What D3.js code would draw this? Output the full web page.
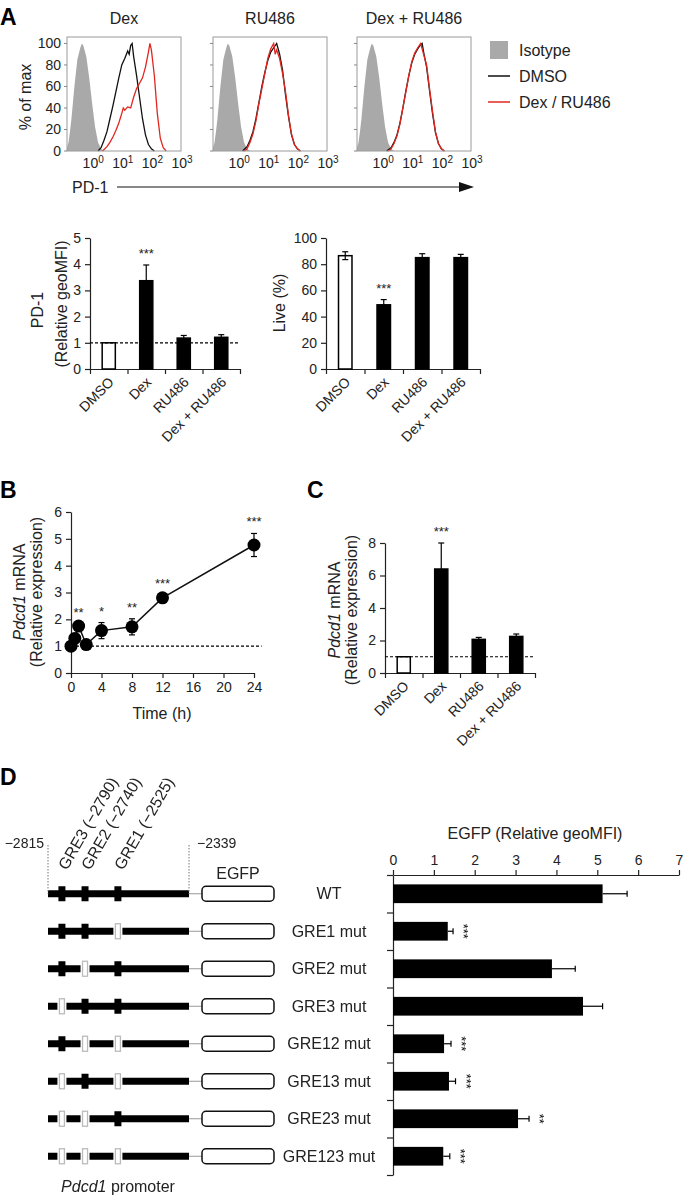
<!DOCTYPE html>
<html>
<head>
<meta charset="utf-8">
<script src="https://cdn.jsdelivr.net/npm/d3@7"></script>
<style>
body { margin: 0; background: #fff; }
text { font-family: "Liberation Sans", Arial, sans-serif; fill: #222; }
</style>
</head>
<body>
<div id="fig"></div>
<script>
// ---------- data ----------
// A: flow histograms (x = log10 PD-1 intensity, y = % of max)
var histTitles = ["Dex", "RU486", "Dex + RU486"];
var pctTicks = [0, 20, 40, 60, 80, 100];
var decades = [0, 1, 2, 3];
var isoX = [-0.85,-0.8,-0.75,-0.7,-0.6,-0.5,-0.4,-0.35,-0.3,-0.2,-0.1,0,0.1,0.2,0.3,0.4];
var isoY = [3,8,18,30,60,85,96,100,98,88,68,44,22,8,2,0];
var dexDmsoX = [0.2,0.3,0.4,0.5,0.6,0.7,0.8,0.9,1.0,1.1,1.2,1.25,1.3,1.35,1.4,1.5,1.6,1.7,1.8,1.9,2.0,2.1];
var dexDmsoY = [0,3,10,18,30,42,55,68,80,86,93,90,98,100,88,70,50,30,15,6,2,0];
var dexTrtX = [0.35,0.5,0.6,0.7,0.8,0.9,1.0,1.05,1.1,1.2,1.3,1.4,1.5,1.6,1.7,1.8,1.85,1.9,1.95,2.0,2.1,2.2,2.3,2.4,2.5];
var dexTrtY = [0,4,8,13,19,26,35,40,38,41,40,50,58,63,68,78,85,92,100,94,70,35,12,3,0];
var ruDmsoX = [0.15,0.3,0.4,0.5,0.6,0.7,0.8,0.9,1.0,1.1,1.2,1.3,1.4,1.5,1.6,1.7,1.8,1.9,2.0,2.1];
var ruDmsoY = [0,4,10,18,30,45,60,73,84,92,96,100,90,75,52,32,15,6,2,0];
var ruTrtX = [0.2,0.3,0.4,0.5,0.6,0.7,0.8,0.9,1.0,1.1,1.2,1.25,1.3,1.4,1.5,1.6,1.7,1.8,1.9,2.0,2.1];
var ruTrtY = [0,2,8,16,28,44,58,72,86,95,100,90,94,86,72,55,33,16,6,2,0];
var comboDmsoX = [0.15,0.3,0.4,0.5,0.6,0.7,0.8,0.9,1.0,1.1,1.2,1.3,1.35,1.4,1.5,1.6,1.7,1.8,1.9,2.0,2.1];
var comboDmsoY = [0,3,8,15,26,40,56,70,82,90,95,99,100,92,78,56,35,17,7,2,0];
var comboTrtX = [0.2,0.3,0.4,0.5,0.6,0.7,0.8,0.9,1.0,1.1,1.2,1.3,1.35,1.4,1.5,1.6,1.7,1.8,1.9,2.0,2.1];
var comboTrtY = [0,2,7,14,25,40,55,70,83,91,96,100,95,90,80,58,37,18,7,2,0];
var legendLabels = ["Isotype", "DMSO", "Dex / RU486"];

// A bottom, C: treatments
var treatments = ["DMSO", "Dex", "RU486", "Dex + RU486"];
var pd1Mean = [1, 3.37, 1.18, 1.21];
var pd1Err = [0, 0.6, 0.1, 0.1];
var pd1Ticks = [0, 1, 2, 3, 4, 5];
var liveMean = [86.5, 49, 85, 85];
var liveErr = [3, 4, 3, 2.5];
var liveTicks = [0, 20, 40, 60, 80, 100];
var treatSig = ["", "***", "", ""];
var cMean = [1, 6.4, 2.07, 2.25];
var cErr = [0, 1.6, 0.12, 0.15];
var cTicks = [0, 2, 4, 6, 8];

// B: time course
var timeH = [0, 0.5, 1, 2, 4, 8, 12, 24];
var timeMean = [1, 1.29, 1.75, 1.06, 1.58, 1.72, 2.8, 4.77];
var timeErr = [0, 0.07, 0.06, 0.04, 0.3, 0.3, 0.1, 0.43];
var timeSig = ["", "", "**", "", "*", "**", "***", "***"];
var timeTicks = [0, 4, 8, 12, 16, 20, 24];
var timeYTicks = [0, 1, 2, 3, 4, 5, 6];

// D: reporter constructs
var constructs = ["WT", "GRE1 mut", "GRE2 mut", "GRE3 mut", "GRE12 mut", "GRE13 mut", "GRE23 mut", "GRE123 mut"];
var mutated = [[], [1], [2], [3], [1, 2], [1, 3], [2, 3], [1, 2, 3]];
var egfpMean = [5.13, 1.34, 3.89, 4.65, 1.25, 1.37, 3.06, 1.23];
var egfpErr = [0.6, 0.13, 0.57, 0.48, 0.17, 0.16, 0.27, 0.16];
var egfpSig = ["", "***", "", "", "***", "***", "**", "***"];
var egfpTicks = [0, 1, 2, 3, 4, 5, 6, 7];
var greNum = [3, 2, 1];
var greBp = [-2790, -2740, -2525];
var greDrawBp = [-2768, -2690, -2579];   // schematic (not to scale) positions in the drawing
var promoterEnds = [-2815, -2339];

// ---------- setup ----------
var svg = d3.select("#fig").append("svg").attr("width", 683).attr("height", 1197);
var intFmt = d3.format("d");

function txt(x, y, s, size, anchor) {
  return svg.append("text").attr("x", x).attr("y", y).attr("text-anchor", anchor || "start")
    .style("font-size", size + "px").text(s);
}
function vtxt(cx, cy, size) {
  return svg.append("text").attr("transform", "translate(" + cx + "," + cy + ") rotate(-90)")
    .attr("text-anchor", "middle").attr("dy", "0.35em").style("font-size", size + "px");
}
function styleAxis(g) {
  g.select(".domain").attr("stroke", "#222").attr("stroke-width", 1.2);
  g.selectAll(".tick line").attr("stroke", "#222").attr("stroke-width", 1.2);
  g.selectAll(".tick text").style("font-size", "14px").attr("fill", "#222")
    .style("font-family", '"Liberation Sans", Arial, sans-serif');
}
function letter(x, y, s) {
  txt(x, y, s, 23).style("font-weight", "bold").style("fill", "#000");
}

// ---------- A: histograms ----------
letter(0, 25, "A");
var histLeft = [67, 213, 357];
var histSets = [[dexDmsoX, dexDmsoY, dexTrtX, dexTrtY],
                [ruDmsoX, ruDmsoY, ruTrtX, ruTrtY],
                [comboDmsoX, comboDmsoY, comboTrtX, comboTrtY]];
var hx = d3.scaleLinear().domain([-0.85, 3]).range([0, 114]);
var hy = d3.scaleLinear().domain([0, 106]).range([151, 37]);
var hline = d3.line().x(function (d) { return hx(d[0]); }).y(function (d) { return hy(d[1]); });
var harea = d3.area().x(function (d) { return hx(d[0]); }).y0(hy(0)).y1(function (d) { return hy(d[1]); });

histTitles.forEach(function (title, i) {
  var g = svg.append("g").attr("transform", "translate(" + histLeft[i] + ",0)");
  var s = histSets[i];
  g.append("path").datum(d3.zip(isoX, isoY)).attr("d", harea).attr("fill", "#a9a9a9");
  g.append("path").datum(d3.zip(s[0], s[1])).attr("d", hline)
    .attr("fill", "none").attr("stroke", "#111").attr("stroke-width", 1.3);
  g.append("path").datum(d3.zip(s[2], s[3])).attr("d", hline)
    .attr("fill", "none").attr("stroke", "#e2261f").attr("stroke-width", 1.3);
  g.append("rect").attr("x", 0).attr("y", hy(106)).attr("width", 114).attr("height", hy(0) - hy(106))
    .attr("fill", "none").attr("stroke", "#9a9a9a").attr("stroke-width", 1);
  g.append("text").attr("x", 57).attr("y", 24).attr("text-anchor", "middle")
    .style("font-size", "16px").text(title);
  g.selectAll(".yt").data(pctTicks).enter().append("line")
    .attr("x1", -3).attr("x2", 0)
    .attr("y1", function (d) { return hy(d); }).attr("y2", function (d) { return hy(d); })
    .attr("stroke", "#888");
  if (i === 0) {
    g.selectAll(".yl").data(pctTicks).enter().append("text")
      .attr("x", -6).attr("y", function (d) { return hy(d); }).attr("dy", "0.35em")
      .attr("text-anchor", "end").style("font-size", "14px").text(function (d) { return d; });
  }
  var xl = g.selectAll(".xl").data(decades).enter().append("text")
    .attr("x", function (d) { return hx(d) + 1; }).attr("y", 168)
    .attr("text-anchor", "middle").style("font-size", "14px");
  xl.append("tspan").text("10");
  xl.append("tspan").attr("dy", -5).style("font-size", "10px").text(function (d) { return d; });
});
vtxt(25, 97, 16).text("% of max");

// legend
svg.append("rect").attr("x", 490).attr("y", 41).attr("width", 18).attr("height", 18).attr("fill", "#a9a9a9");
svg.append("line").attr("x1", 488).attr("x2", 510).attr("y1", 76).attr("y2", 76).attr("stroke", "#111").attr("stroke-width", 1.5);
svg.append("line").attr("x1", 488).attr("x2", 510).attr("y1", 102).attr("y2", 102).attr("stroke", "#e2261f").attr("stroke-width", 1.5);
legendLabels.forEach(function (l, i) { txt(519, 56 + i * 26, l, 16); });

// PD-1 arrow
txt(72, 193, "PD-1", 16);
svg.append("line").attr("x1", 117).attr("x2", 461).attr("y1", 187).attr("y2", 187).attr("stroke", "#111").attr("stroke-width", 1.2);
svg.append("path").attr("d", "M459,182 L474,187 L459,192 Z").attr("fill", "#111");

// ---------- vertical bar chart helper ----------
function barChart(o) {
  var x = d3.scaleBand().domain(treatments).range([o.x0, o.x1]).paddingInner(0.65).paddingOuter(0.325);
  var y = d3.scaleLinear().domain([0, o.max]).range([o.yBot, o.yTop]);
  var xl = d3.scaleLinear().domain([0, treatments.length]).range([o.x0, o.x1]);
  var ga = svg.append("g").attr("transform", "translate(0," + o.yBot + ")")
    .call(d3.axisBottom(xl).ticks(4).tickFormat("").tickSize(5).tickSizeOuter(0));
  styleAxis(ga);
  var gy = svg.append("g").attr("transform", "translate(" + o.x0 + ",0)")
    .call(d3.axisLeft(y).tickValues(o.ticks).tickFormat(intFmt).tickSize(5).tickSizeOuter(0).tickPadding(4));
  styleAxis(gy);
  var bw = x.bandwidth();
  svg.append("g").selectAll("rect").data(treatments).enter().append("rect")
    .attr("x", function (d) { return x(d); }).attr("width", bw)
    .attr("y", function (d, i) { return y(o.mean[i]); })
    .attr("height", function (d, i) { return o.yBot - y(o.mean[i]); })
    .attr("fill", function (d, i) { return i === 0 ? "#fff" : "#000"; })
    .attr("stroke", "#000").attr("stroke-width", 1.5);
  treatments.forEach(function (d, i) {
    if (!o.err[i]) return;
    var cx = x(d) + bw / 2;
    var lo = y(o.mean[i] - o.err[i]), hi = y(o.mean[i] + o.err[i]);
    svg.append("line").attr("x1", cx).attr("x2", cx).attr("y1", lo).attr("y2", hi).attr("stroke", "#000").attr("stroke-width", 1.2);
    svg.append("line").attr("x1", cx - 3).attr("x2", cx + 3).attr("y1", hi).attr("y2", hi).attr("stroke", "#000").attr("stroke-width", 1.2);
    svg.append("line").attr("x1", cx - 3).attr("x2", cx + 3).attr("y1", lo).attr("y2", lo).attr("stroke", "#000").attr("stroke-width", 1.2);
    if (treatSig[i]) txt(cx, hi - 7, treatSig[i], 13, "middle");
  });
  if (o.dashed) {
    svg.append("line").attr("x1", o.x0).attr("x2", o.x1).attr("y1", y(1)).attr("y2", y(1))
      .attr("stroke", "#000").attr("stroke-width", 1.2).attr("stroke-dasharray", "3,2");
  }
  treatments.forEach(function (d) {
    var cx = x(d) + bw / 2;
    svg.append("text").attr("transform", "translate(" + (cx + 6) + "," + (o.yBot + 14) + ") rotate(-45)")
      .attr("text-anchor", "end").style("font-size", "14px").text(d);
  });
}

barChart({ x0: 90, x1: 240, yTop: 238, yBot: 369, max: 5, ticks: pd1Ticks, mean: pd1Mean, err: pd1Err, dashed: true });
vtxt(37, 310, 16).text("PD-1");
vtxt(61, 304, 16).text("(Relative geoMFI)");

barChart({ x0: 326, x1: 480, yTop: 238, yBot: 369, max: 100, ticks: liveTicks, mean: liveMean, err: liveErr, dashed: false });
vtxt(279, 303, 16).text("Live (%)");

// ---------- B: time course ----------
letter(0, 498, "B");
var bx = d3.scaleLinear().domain([0, 24]).range([71, 254]);
var by = d3.scaleLinear().domain([0, 6]).range([673, 512]);
var gbx = svg.append("g").attr("transform", "translate(0,673)")
  .call(d3.axisBottom(bx).tickValues(timeTicks).tickFormat(intFmt).tickSize(5).tickSizeOuter(0).tickPadding(4));
styleAxis(gbx);
var gby = svg.append("g").attr("transform", "translate(71,0)")
  .call(d3.axisLeft(by).tickValues(timeYTicks).tickFormat(intFmt).tickSize(5).tickSizeOuter(0).tickPadding(4));
styleAxis(gby);
svg.append("line").attr("x1", bx(0)).attr("x2", bx(25)).attr("y1", by(1)).attr("y2", by(1))
  .attr("stroke", "#000").attr("stroke-width", 1.2).attr("stroke-dasharray", "3,2");
svg.append("path").datum(d3.zip(timeH, timeMean))
  .attr("d", d3.line().x(function (d) { return bx(d[0]); }).y(function (d) { return by(d[1]); }))
  .attr("fill", "none").attr("stroke", "#111").attr("stroke-width", 1.5);
timeH.forEach(function (t, i) {
  var cx = bx(t), hi = by(timeMean[i] + timeErr[i]), lo = by(timeMean[i] - timeErr[i]);
  if (timeErr[i]) {
    svg.append("line").attr("x1", cx).attr("x2", cx).attr("y1", lo).attr("y2", hi).attr("stroke", "#000").attr("stroke-width", 1.2);
    svg.append("line").attr("x1", cx - 3).attr("x2", cx + 3).attr("y1", hi).attr("y2", hi).attr("stroke", "#000").attr("stroke-width", 1.2);
    svg.append("line").attr("x1", cx - 3).attr("x2", cx + 3).attr("y1", lo).attr("y2", lo).attr("stroke", "#000").attr("stroke-width", 1.2);
  }
  if (timeSig[i]) txt(cx, hi - 7, timeSig[i], 13, "middle");
});
svg.append("g").selectAll("circle").data(timeH).enter().append("circle")
  .attr("cx", function (d) { return bx(d); }).attr("cy", function (d, i) { return by(timeMean[i]); })
  .attr("r", 6.5).attr("fill", "#000");
txt(162, 719, "Time (h)", 16, "middle");
var lb1 = vtxt(19, 592, 16);
lb1.append("tspan").style("font-style", "italic").text("Pdcd1");
lb1.append("tspan").text(" mRNA");
vtxt(36, 592, 16).text("(Relative expression)");

// ---------- C ----------
letter(307, 498, "C");
barChart({ x0: 385, x1: 535, yTop: 543, yBot: 673, max: 8, ticks: cTicks, mean: cMean, err: cErr, dashed: true });
var lc1 = vtxt(334, 610, 16);
lc1.append("tspan").style("font-style", "italic").text("Pdcd1");
lc1.append("tspan").text(" mRNA");
vtxt(351, 610, 16).text("(Relative expression)");

// ---------- D ----------
letter(0, 785, "D");
var dx = d3.scaleLinear().domain([0, 7]).range([393, 679]);
var dy = d3.scaleBand().domain(constructs).range([875, 1175]).paddingInner(0.5).paddingOuter(0.25);
var dyl = d3.scaleLinear().domain([0, constructs.length]).range([875, 1175]);
var gdx = svg.append("g").attr("transform", "translate(0,875)")
  .call(d3.axisTop(dx).tickValues(egfpTicks).tickFormat(intFmt).tickSize(5).tickSizeOuter(0).tickPadding(5));
styleAxis(gdx);
var gdy = svg.append("g").attr("transform", "translate(393,0)")
  .call(d3.axisLeft(dyl).ticks(constructs.length).tickFormat("").tickSize(6).tickSizeOuter(0));
styleAxis(gdy);
txt(535, 839, "EGFP (Relative geoMFI)", 16, "middle");
var bh = dy.bandwidth();
svg.append("g").selectAll("rect").data(constructs).enter().append("rect")
  .attr("x", dx(0)).attr("y", function (d) { return dy(d); })
  .attr("width", function (d, i) { return dx(egfpMean[i]) - dx(0); }).attr("height", bh)
  .attr("fill", "#000");
// stars group: slight opacity keeps the turned glyphs grey-scale antialiased
var starG = svg.append("g").style("opacity", 0.99);
constructs.forEach(function (c, i) {
  var cy = dy(c) + bh / 2, x1 = dx(egfpMean[i]), x2 = dx(egfpMean[i] + egfpErr[i]);
  svg.append("line").attr("x1", x1).attr("x2", x2).attr("y1", cy).attr("y2", cy).attr("stroke", "#000").attr("stroke-width", 1.2);
  svg.append("line").attr("x1", x2).attr("x2", x2).attr("y1", cy - 3).attr("y2", cy + 3).attr("stroke", "#000").attr("stroke-width", 1.2);
  // significance stars, turned to run top-to-bottom beside the error bar
  if (egfpSig[i]) {
    starG.append("text").attr("transform", "translate(" + (x2 + 6) + "," + cy + ") rotate(90)")
      .attr("text-anchor", "middle").style("font-size", "13px").style("fill", "#000").text(egfpSig[i]);
  }
});

// promoter schematics
var px = d3.scaleLinear().domain(promoterEnds).range([48, 189]);
var egfpX = 202, egfpW = 72;
constructs.forEach(function (c, i) {
  var cy = dy(c) + bh / 2;
  svg.append("line").attr("x1", px(promoterEnds[1])).attr("x2", egfpX).attr("y1", cy).attr("y2", cy)
    .attr("stroke", "#999").attr("stroke-width", 1);
  svg.append("line").attr("x1", px(promoterEnds[0])).attr("x2", px(promoterEnds[1])).attr("y1", cy).attr("y2", cy)
    .attr("stroke", "#000").attr("stroke-width", 7);
  greNum.forEach(function (n, k) {
    var gx = px(greDrawBp[k]);
    if (mutated[i].indexOf(n) >= 0) {
      svg.append("rect").attr("x", gx - 4.5).attr("y", cy - 5).attr("width", 9).attr("height", 10).attr("fill", "#fff");
      svg.append("rect").attr("x", gx - 2.5).attr("y", cy - 7.5).attr("width", 5).attr("height", 15)
        .attr("fill", "#fff").attr("stroke", "#bbb").attr("stroke-width", 1.3);
    } else {
      svg.append("rect").attr("x", gx - 3.5).attr("y", cy - 7.5).attr("width", 7).attr("height", 15).attr("fill", "#000");
    }
  });
  svg.append("rect").attr("x", egfpX).attr("y", cy - 7.5).attr("width", egfpW).attr("height", 15).attr("rx", 4)
    .attr("fill", "#fff").attr("stroke", "#111").attr("stroke-width", 1.5);
  txt(329, cy, c, 16, "middle").attr("dy", "0.35em");
});
var wtY = dy(constructs[0]) + bh / 2;
promoterEnds.forEach(function (p) {
  svg.append("line").attr("x1", px(p)).attr("x2", px(p)).attr("y1", 845).attr("y2", wtY)
    .attr("stroke", "#777").attr("stroke-width", 1).attr("stroke-dasharray", "1.5,1.5");
});
txt(px(promoterEnds[0]) - 4, 848, "\u2212" + Math.abs(promoterEnds[0]), 14, "end");
txt(px(promoterEnds[1]) + 8, 848, "\u2212" + Math.abs(promoterEnds[1]), 14, "start");
greNum.forEach(function (n, k) {
  svg.append("text").attr("transform", "translate(" + (px(greDrawBp[k]) + 5) + ",871) rotate(-60)")
    .style("font-size", "16px").text("GRE" + n + " (\u2212" + Math.abs(greBp[k]) + ")");
});
txt(egfpX + egfpW / 2, 879, "EGFP", 16, "middle");
var pl = txt(118, 1192, "", 16, "middle");
pl.append("tspan").style("font-style", "italic").text("Pdcd1");
pl.append("tspan").text(" promoter");
</script>
</body>
</html>
